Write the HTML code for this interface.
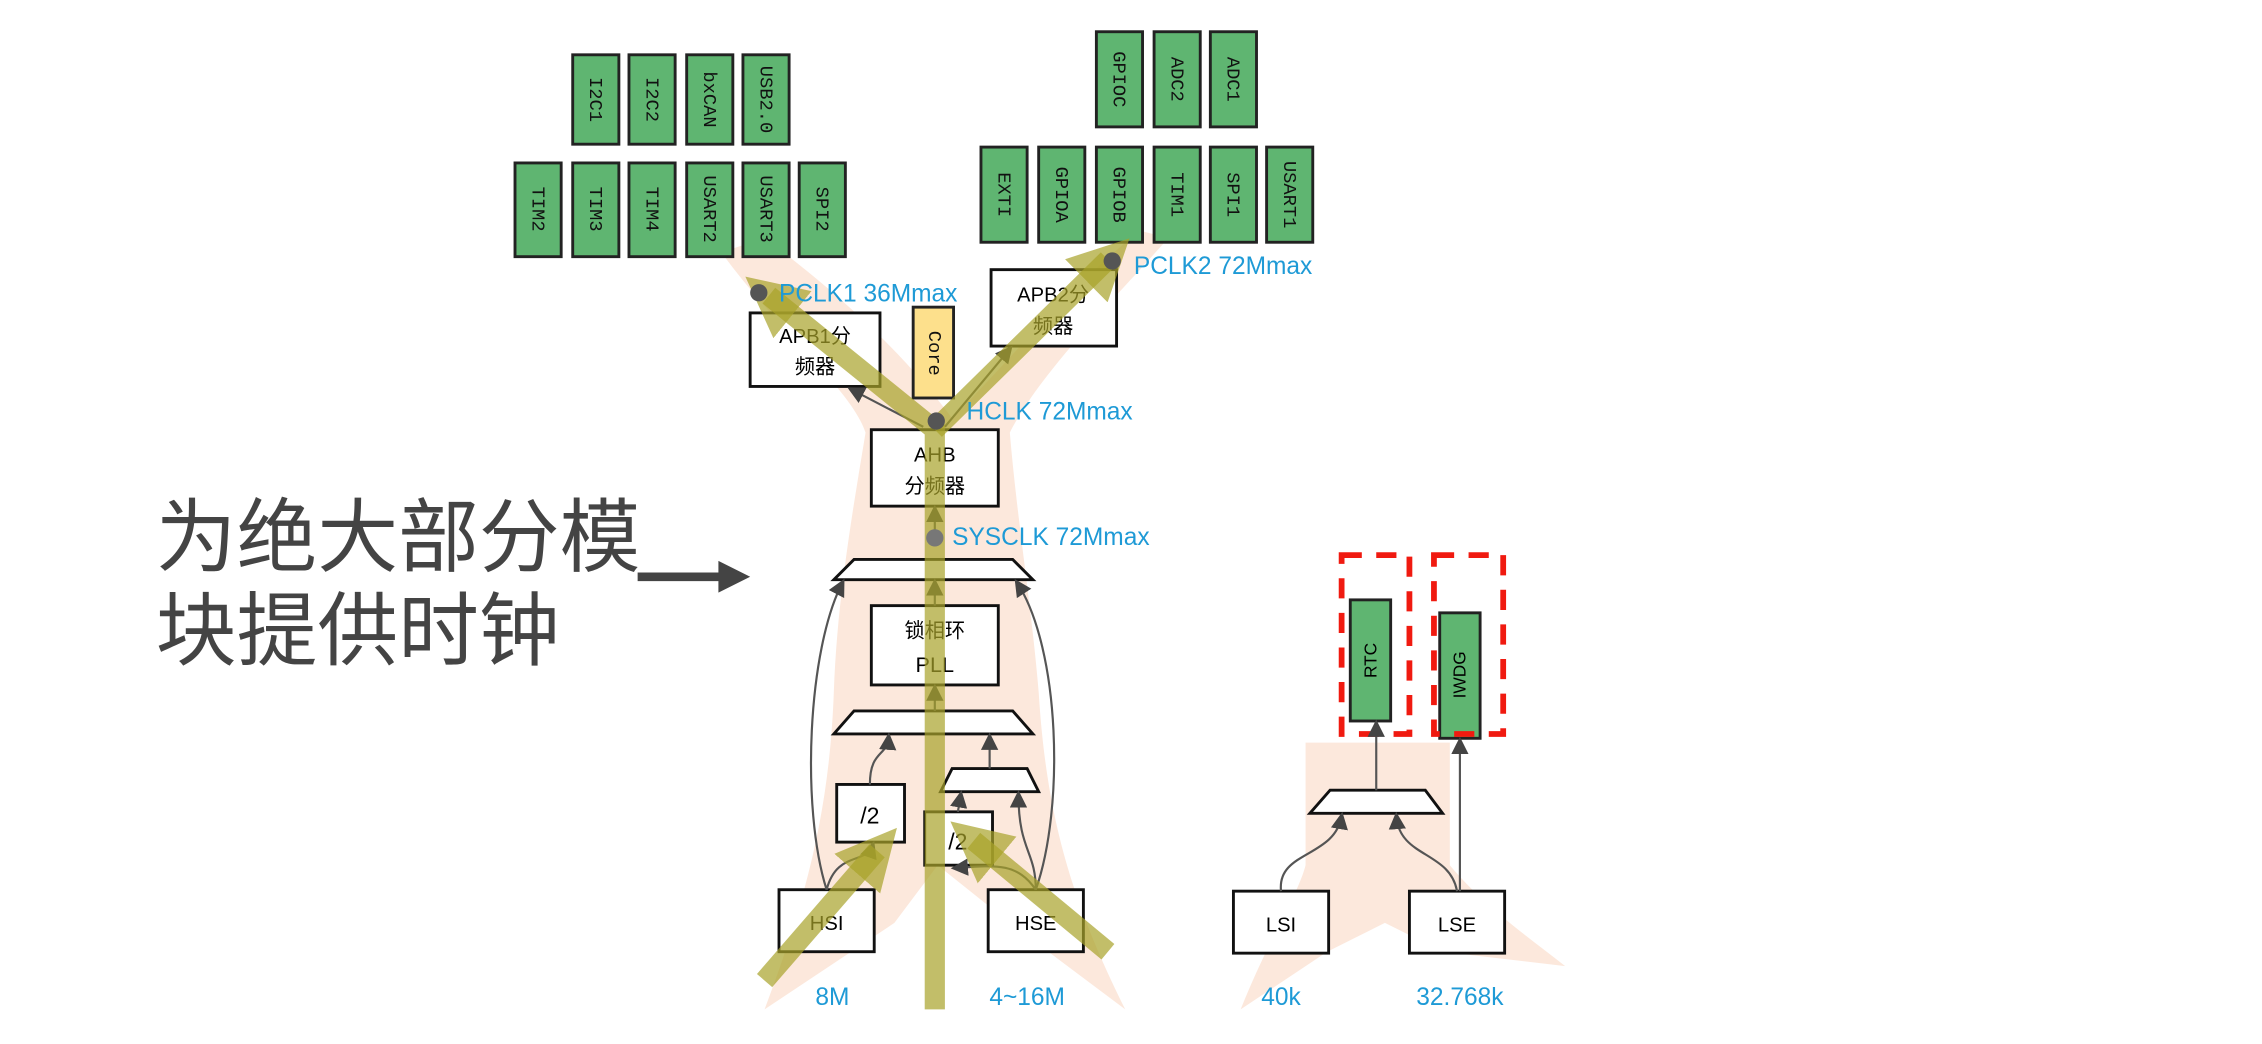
<!DOCTYPE html>
<html><head><meta charset="utf-8"><style>
html,body{margin:0;padding:0;background:#fff;width:2262px;height:1044px;overflow:hidden}
svg{display:block}
.t{font-family:"Liberation Sans","Noto Sans CJK SC",sans-serif}
.b{fill:#fff;stroke:#111;stroke-width:2}
.g{fill:#5fb571;stroke:#222;stroke-width:2}
.v{font-family:"Liberation Mono","Liberation Sans",monospace;font-size:13px;fill:#111}
.c{font-family:"Liberation Sans",sans-serif;font-size:17px;fill:#1e9ad6}
.w{stroke:#555;stroke-width:1.5;fill:none;marker-end:url(#ah)}
.y{stroke:#a8a22a;stroke-opacity:.7;stroke-width:14;fill:none}
</style></head><body>
<svg width="2262" height="1044" viewBox="0 0 1568 724" preserveAspectRatio="none" xmlns="http://www.w3.org/2000/svg">
<defs>
<marker id="ah" markerWidth="8" markerHeight="8" refX="6" refY="4" orient="auto"><path d="M0,0 L8,4 L0,8 z" fill="#444"/></marker>
<marker id="ya" markerWidth="3" markerHeight="3" refX="1.5" refY="1.5" orient="auto"><path d="M0,0 L3,1.5 L0,3 z" fill="#a8a22a" fill-opacity=".7"/></marker>
</defs>
<rect width="1568" height="724" fill="#fff"/>
<!-- peach background -->
<g fill="#fbe0d0" fill-opacity=".75">
<path d="M500,175 C540,230 590,270 600,300 C590,360 580,420 578,480 C575,560 560,620 530,700 L620,640 L650,600 L700,640 L780,700 C740,620 725,560 720,480 C715,420 705,360 700,300 C720,260 770,210 810,165 L790,160 C740,200 700,250 660,290 C630,250 590,210 530,165 Z"/>
<path d="M905,515 L1005,515 L1005,600 C1030,630 1060,650 1085,670 L1000,660 L960,640 L920,660 L860,700 C880,650 900,620 905,600 Z"/>
</g>
<!-- left text -->
<text class="t" x="108" y="392" font-size="56" fill="#444">为绝大部分模</text>
<text class="t" x="108" y="457" font-size="56" fill="#444">块提供时钟</text>
<path d="M442,400 L500,400" stroke="#444" stroke-width="6"/>
<path d="M498,389 L520,400 L498,411 z" fill="#444"/>
<!-- green boxes -->
<g>
<rect class="g" x="397" y="38" width="32" height="62"/><rect class="g" x="436" y="38" width="32" height="62"/><rect class="g" x="476" y="38" width="32" height="62"/><rect class="g" x="515" y="38" width="32" height="62"/>
<rect class="g" x="357" y="113" width="32" height="65"/><rect class="g" x="397" y="113" width="32" height="65"/><rect class="g" x="436" y="113" width="32" height="65"/><rect class="g" x="476" y="113" width="32" height="65"/><rect class="g" x="515" y="113" width="32" height="65"/><rect class="g" x="554" y="113" width="32" height="65"/>
<rect class="g" x="760" y="22" width="32" height="66"/><rect class="g" x="800" y="22" width="32" height="66"/><rect class="g" x="839" y="22" width="32" height="66"/>
<rect class="g" x="680" y="102" width="32" height="66"/><rect class="g" x="720" y="102" width="32" height="66"/><rect class="g" x="760" y="102" width="32" height="66"/><rect class="g" x="800" y="102" width="32" height="66"/><rect class="g" x="839" y="102" width="32" height="66"/><rect class="g" x="878" y="102" width="32" height="66"/>
</g>
<g class="v" text-anchor="middle">
<text transform="translate(409,69) rotate(90)">I2C1</text><text transform="translate(448,69) rotate(90)">I2C2</text><text transform="translate(488,69) rotate(90)">bxCAN</text><text transform="translate(527,69) rotate(90)">USB2.0</text>
<text transform="translate(369,145) rotate(90)">TIM2</text><text transform="translate(409,145) rotate(90)">TIM3</text><text transform="translate(448,145) rotate(90)">TIM4</text><text transform="translate(488,145) rotate(90)">USART2</text><text transform="translate(527,145) rotate(90)">USART3</text><text transform="translate(566,145) rotate(90)">SPI2</text>
<text transform="translate(772,55) rotate(90)">GPIOC</text><text transform="translate(812,55) rotate(90)">ADC2</text><text transform="translate(851,55) rotate(90)">ADC1</text>
<text transform="translate(692,135) rotate(90)">EXTI</text><text transform="translate(732,135) rotate(90)">GPIOA</text><text transform="translate(772,135) rotate(90)">GPIOB</text><text transform="translate(812,135) rotate(90)">TIM1</text><text transform="translate(851,135) rotate(90)">SPI1</text><text transform="translate(890,135) rotate(90)">USART1</text>
</g>
<!-- boxes -->
<rect class="b" x="520" y="217" width="90" height="51"/>
<text class="t" x="565" y="238" font-size="14" text-anchor="middle">APB1分</text><text class="t" x="565" y="259" font-size="14" text-anchor="middle">频器</text>
<rect x="633" y="213" width="28" height="63" fill="#fde08c" stroke="#222" stroke-width="2"/>
<text class="v" transform="translate(644,245) rotate(90)" text-anchor="middle">Core</text>
<rect class="b" x="687" y="187" width="87" height="53"/>
<text class="t" x="730" y="209" font-size="14" text-anchor="middle">APB2分</text><text class="t" x="730" y="231" font-size="14" text-anchor="middle">频器</text>
<rect class="b" x="604" y="298" width="88" height="53"/>
<text class="t" x="648" y="320" font-size="14" text-anchor="middle">AHB</text><text class="t" x="648" y="342" font-size="14" text-anchor="middle">分频器</text>
<path class="b" d="M592,388 L702,388 L716,402 L578,402 Z"/>
<rect class="b" x="604" y="420" width="88" height="55"/>
<text class="t" x="648" y="442" font-size="14" text-anchor="middle">锁相环</text><text class="t" x="648" y="466" font-size="15" text-anchor="middle">PLL</text>
<path class="b" d="M592,493 L702,493 L716,509 L578,509 Z"/>
<path class="b" d="M660,533 L712,533 L720,549 L652,549 Z"/>
<rect class="b" x="580" y="544" width="47" height="40"/><text class="t" x="603" y="571" font-size="16" text-anchor="middle">/2</text>
<rect class="b" x="641" y="563" width="47" height="37"/><text class="t" x="664" y="589" font-size="16" text-anchor="middle">/2</text>
<rect class="b" x="540" y="617" width="66" height="43"/><text class="t" x="573" y="645" font-size="14" text-anchor="middle">HSI</text>
<rect class="b" x="685" y="617" width="66" height="43"/><text class="t" x="718" y="645" font-size="14" text-anchor="middle">HSE</text>
<rect class="b" x="855" y="618" width="66" height="43"/><text class="t" x="888" y="646" font-size="14" text-anchor="middle">LSI</text>
<rect class="b" x="977" y="618" width="66" height="43"/><text class="t" x="1010" y="646" font-size="14" text-anchor="middle">LSE</text>
<path class="b" d="M922,548 L988,548 L1000,564 L908,564 Z" stroke-width="3"/>
<rect class="g" x="936" y="416" width="28" height="84"/><text class="t" transform="translate(950,458) rotate(-90)" font-size="12" text-anchor="middle" dy="4">RTC</text>
<rect class="g" x="998" y="425" width="28" height="87"/><text class="t" transform="translate(1012,468) rotate(-90)" font-size="12" text-anchor="middle" dy="4">IWDG</text>
<rect x="930" y="385" width="47" height="124" fill="none" stroke="#f01a10" stroke-width="4" stroke-dasharray="14,10"/>
<rect x="994" y="385" width="48" height="124" fill="none" stroke="#f01a10" stroke-width="4" stroke-dasharray="14,10"/>
<!-- thin connectors -->
<path class="w" d="M573,617 C580,590 600,600 605,586"/>
<path class="w" d="M603,544 C603,520 615,525 616,511"/>
<path class="w" d="M573,617 C555,560 560,450 584,404"/>
<path class="w" d="M718,617 C705,598 690,600 662,602"/>
<path class="w" d="M718,617 C718,590 706,590 706,551"/>
<path class="w" d="M686,533 L686,511"/>
<path class="w" d="M664,563 L666,551"/>
<path class="w" d="M718,617 C738,560 735,450 705,404"/>
<path class="w" d="M648,420 L648,404"/>
<path class="w" d="M648,493 L648,477"/>
<path class="w" d="M648,372 L648,353"/>
<path class="w" d="M640,296 L590,270"/>
<path class="w" d="M655,296 L700,242"/>
<path class="w" d="M888,618 C885,590 925,595 930,566"/>
<path class="w" d="M1010,618 C1005,590 970,595 968,566"/>
<path class="w" d="M954,548 L954,502"/>
<path class="w" d="M1012,618 L1012,514"/>
<!-- yellow arrows -->
<path class="y" d="M648,700 L648,298 L533,205" marker-end="url(#ya)"/>
<path class="y" d="M648,298 L768,180" marker-end="url(#ya)"/>
<path class="y" d="M530,680 L608,590" marker-end="url(#ya)"/>
<path class="y" d="M768,660 L675,583" marker-end="url(#ya)"/>
<!-- dots & labels -->
<circle cx="526" cy="203" r="6" fill="#555"/><circle cx="771" cy="181" r="6" fill="#555"/><circle cx="649" cy="292" r="6" fill="#555"/><circle cx="648" cy="373" r="6" fill="#777"/>
<text class="c" x="540" y="209">PCLK1 36Mmax</text>
<text class="c" x="786" y="190">PCLK2 72Mmax</text>
<text class="c" x="670" y="291">HCLK 72Mmax</text>
<text class="c" x="660" y="378">SYSCLK 72Mmax</text>
<text class="c" x="577" y="697" text-anchor="middle">8M</text>
<text class="c" x="712" y="697" text-anchor="middle">4~16M</text>
<text class="c" x="888" y="697" text-anchor="middle">40k</text>
<text class="c" x="1012" y="697" text-anchor="middle">32.768k</text>
</svg>
</body></html>
